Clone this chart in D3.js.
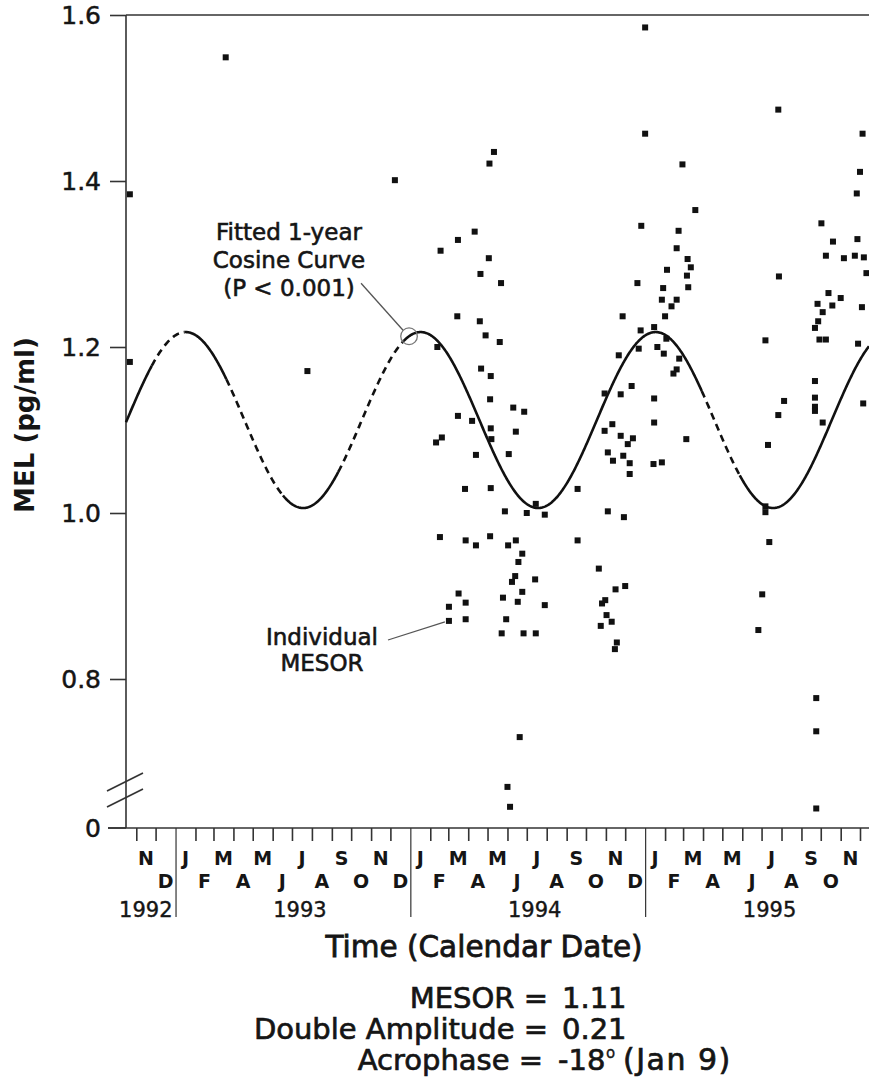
<!DOCTYPE html>
<html><head><meta charset="utf-8">
<script src="https://cdn.jsdelivr.net/npm/d3@7"></script>
<style>
body{margin:0;background:#fff}
text{font-family:"DejaVu Sans",sans-serif;fill:#151515}
</style>
</head><body>
<svg id="chart" width="869" height="1078"></svg>
<script>
// ---------- data ----------
const sampleDates = [
"1992-10-22","1992-10-22","1993-03-20","1993-07-25","1993-12-08",
"1994-05-11","1994-05-04","1994-04-11","1994-03-16","1994-02-17","1994-05-03","1994-04-20","1994-05-22",
"1994-03-15","1994-04-19","1994-04-28","1994-05-20","1994-02-12","1994-04-21","1994-05-06","1994-05-05",
"1994-06-10","1994-06-27","1994-03-16","1994-04-07","1994-05-06","1994-06-14","1994-05-07","1994-02-19",
"1994-02-10","1994-04-13","1994-06-03","1994-03-27","1994-05-06","1994-07-15","1994-05-28","1994-07-01",
"1994-07-29","1994-02-16","1994-03-28","1994-04-13","1994-05-05","1994-06-02","1994-06-14","1994-09-18",
"1994-09-18","1994-06-24","1994-06-18","1994-06-13","1994-06-08","1994-07-14","1994-06-24","1994-05-25",
"1994-06-17","1994-07-29","1994-05-30","1994-05-23","1994-06-26","1994-07-15","1994-03-17","1994-03-02",
"1994-03-28","1994-03-02","1994-03-28","1994-06-20","1994-06-01","1994-06-05",
"1994-10-30","1994-11-24","1994-11-11","1994-10-30","1994-11-24","1994-12-13","1994-12-05","1994-11-04",
"1994-11-28","1994-11-12","1994-12-08","1994-12-08","1994-12-11","1994-11-21","1994-11-27","1994-11-04",
"1994-11-29","1994-10-21","1994-11-16","1994-12-01","1994-10-26","1994-10-31","1994-11-02","1994-11-10",
"1994-10-24","1994-11-18","1994-11-15","1994-12-26","1995-01-01","1995-01-01","1994-12-20","1994-12-22",
"1994-12-25",
"1995-02-28","1995-03-20","1995-02-22","1995-02-19","1995-03-08","1995-03-13","1995-03-07","1995-03-09",
"1995-02-04","1995-01-29","1995-01-27","1995-02-19","1995-02-11","1995-02-01","1995-01-15","1995-02-03",
"1995-01-20","1995-01-30","1995-02-23","1995-02-19","1995-02-14","1995-01-15","1995-01-15","1995-03-06",
"1995-01-14","1995-01-27",
"1995-07-27","1995-07-28","1995-07-07","1995-08-05","1995-07-27","1995-07-11","1995-07-07","1995-07-07",
"1995-07-13","1995-07-02","1995-06-26",
"1995-10-02","1995-10-20","1995-10-09","1995-11-06","1995-11-23","1995-12-07","1995-11-27","1995-12-05",
"1995-12-01","1995-11-26","1995-12-11","1995-10-13","1995-11-01","1995-09-26","1995-10-04","1995-10-19",
"1995-12-04","1995-09-27","1995-09-22","1995-09-29","1995-10-09","1995-11-28","1995-09-22","1995-09-22",
"1995-09-22","1995-09-22","1995-10-04","1995-12-06","1995-09-24","1995-09-24","1995-09-24"
];
const melValues = [
1.384,1.182,1.549,1.171,1.401,
1.435,1.421,1.339,1.329,1.316,1.307,1.288,1.277,
1.237,1.231,1.214,1.206,1.200,1.174,1.165,1.137,
1.127,1.122,1.117,1.111,1.102,1.098,1.089,1.091,
1.085,1.070,1.071,1.029,1.030,1.011,1.002,1.000,
0.998,0.971,0.967,0.961,0.972,0.961,0.967,1.029,
0.967,0.951,0.941,0.924,0.917,0.920,0.905,0.898,
0.893,0.889,0.872,0.855,0.855,0.855,0.903,0.887,
0.892,0.870,0.872,0.730,0.670,0.646,
1.144,1.143,1.107,1.099,1.093,1.090,1.083,1.073,
1.069,1.063,1.060,1.047,1.153,1.190,1.237,1.002,
0.995,0.933,0.908,0.912,0.891,0.895,0.877,0.869,
0.864,0.844,0.836,1.346,1.585,1.457,1.277,1.198,
1.220,
1.420,1.365,1.340,1.319,1.306,1.296,1.286,1.272,
1.293,1.271,1.257,1.257,1.249,1.237,1.224,1.210,
1.200,1.192,1.186,1.173,1.168,1.138,1.109,1.089,
1.059,1.061,
1.486,1.285,1.208,1.135,1.118,1.082,1.008,1.001,
0.965,0.902,0.859,
1.349,1.327,1.310,1.307,1.310,1.308,1.330,1.457,
1.411,1.385,1.289,1.265,1.259,1.252,1.242,1.250,
1.248,1.231,1.223,1.209,1.209,1.204,1.159,1.139,
1.128,1.123,1.109,1.132,0.777,0.737,0.644
];

// fitted 1-year cosine (parameters as drawn)
const mesor = 1.112;
const amplitude = 0.106;          // double amplitude 0.21
const acrophaseDate = "1994-01-17";
const periodDays = 365.25;
const solidRanges = [["1992-10-16","1992-11-25"],["1993-01-15","1993-03-21"],["1993-06-17","1993-09-11"],["1993-12-22","1995-03-30"],["1995-05-28","1995-12-15"]];
const dashedRanges = [["1992-11-25","1993-01-15"],["1993-03-21","1993-06-17"],["1993-09-11","1993-12-22"],["1995-03-30","1995-05-28"]];

const yTickValues = [0.8, 1.0, 1.2, 1.4, 1.6];
const monthLetters = ["J","F","M","A","M","J","J","A","S","O","N","D"];
const yearLabels = ["1992","1993","1994","1995"];
const timeDomain = ["1992-10-16","1995-12-15"];

// ---------- drawing ----------
const parse = d3.utcParse("%Y-%m-%d");
const svg = d3.select("#chart");
const axisColor = "#333";
const ink = "#151515";

const x = d3.scaleUtc().domain(timeDomain.map(parse)).range([126, 869]);
const y = d3.scaleLinear().domain([0.8, 1.6]).range([679, 15]);
const yBottom = 828;

// y axis
const yAxis = svg.append("g").attr("transform", "translate(126,0)")
  .call(d3.axisLeft(y).tickValues(yTickValues).tickSize(16).tickPadding(9).tickFormat(d3.format(".1f")));
yAxis.select(".domain").remove();
yAxis.selectAll(".tick line").attr("stroke", axisColor).attr("stroke-width", 1.6);
yAxis.selectAll(".tick text").style("font-size", "25px").attr("fill", ink)
  .attr("stroke", ink).attr("stroke-width", 0.5)
  .style("font-family", '"DejaVu Sans",sans-serif');
svg.append("line").attr("x1", 126).attr("x2", 126).attr("y1", y(1.6)).attr("y2", yBottom)
  .attr("stroke", axisColor).attr("stroke-width", 1.6);
// top frame
svg.append("line").attr("x1", 126).attr("x2", 869).attr("y1", y(1.6)).attr("y2", y(1.6))
  .attr("stroke", axisColor).attr("stroke-width", 1.6);
// zero tick + label
svg.append("line").attr("x1", 108).attr("x2", 126).attr("y1", yBottom).attr("y2", yBottom)
  .attr("stroke", axisColor).attr("stroke-width", 1.6);
svg.append("text").attr("x", 101).attr("y", yBottom).attr("dy", "0.35em").attr("text-anchor", "end")
  .style("font-size", "25px").attr("stroke", ink).attr("stroke-width", 0.5).text("0");
// axis break
[[791, 773], [807, 789]].forEach(([a, b]) => {
  svg.append("line").attr("x1", 107).attr("y1", a).attr("x2", 143).attr("y2", b)
    .attr("stroke", axisColor).attr("stroke-width", 1.6);
});

// x axis
const months = d3.utcMonth.range(parse("1992-11-01"), parse("1995-12-15"));
const xAxis = svg.append("g").attr("transform", `translate(0,${yBottom})`)
  .call(d3.axisBottom(x).tickValues(months).tickSize(13).tickFormat(""));
xAxis.select(".domain").remove();
xAxis.selectAll(".tick line").attr("stroke", axisColor)
  .attr("y2", d => d.getUTCMonth() === 0 ? 89 : 13)
  .attr("stroke-width", d => d.getUTCMonth() === 0 ? 1.2 : 1.6);
svg.append("line").attr("x1", 108).attr("x2", 869).attr("y1", yBottom).attr("y2", yBottom)
  .attr("stroke", axisColor).attr("stroke-width", 1.6);

// month letters
months.forEach(m => {
  const next = d3.utcMonth.offset(m, 1);
  const cx = (x(m) + x(next)) / 2;
  if (cx > 860) return;
  const mi = m.getUTCMonth();
  svg.append("text").attr("x", cx).attr("y", mi % 2 === 0 ? 865 : 888)
    .attr("text-anchor", "middle").style("font-size", "19px").style("font-weight", "bold")
    .text(monthLetters[mi]);
});
// year labels
yearLabels.forEach((yl, i) => {
  const start = parse(yl + "-01-01"), end = parse((+yl + 1) + "-01-01");
  const t = svg.append("text").attr("y", 917).style("font-size", "21px")
    .attr("stroke", ink).attr("stroke-width", 0.4).text(yl);
  if (i === 0) t.attr("x", x(end) - 3).attr("text-anchor", "end");
  else t.attr("x", (x(start) + x(end)) / 2 + 7).attr("text-anchor", "middle");
});

// fitted cosine curve
const acro = parse(acrophaseDate);
const cosVal = d => mesor + amplitude * Math.cos(2 * Math.PI * ((d - acro) / 864e5) / periodDays);
const line = d3.line().x(d => x(d)).y(d => y(cosVal(d)));
const seg = r => d3.utcDay.range(parse(r[0]), d3.utcDay.offset(parse(r[1]), 1));
solidRanges.forEach(r => {
  svg.append("path").attr("d", line(seg(r))).attr("fill", "none").attr("stroke", "#111").attr("stroke-width", 2.6);
});
dashedRanges.forEach(r => {
  svg.append("path").attr("d", line(seg(r))).attr("fill", "none").attr("stroke", "#111")
    .attr("stroke-width", 2.6).attr("stroke-dasharray", "7,5");
});

// data points
const pts = sampleDates.map((d, i) => ({ date: parse(d), v: melValues[i] }));
svg.append("g").selectAll("rect").data(pts).join("rect")
  .attr("x", d => x(d.date) - 3).attr("y", d => y(d.v) - 3)
  .attr("width", 6).attr("height", 6).attr("fill", "#111");

// annotation: fitted curve
const cDate = parse("1993-12-30");
const cx0 = x(cDate), cy0 = y(cosVal(cDate));
svg.append("circle").attr("cx", cx0).attr("cy", cy0).attr("r", 8.3)
  .attr("fill", "none").attr("stroke", "#777").attr("stroke-width", 1.3);
svg.append("line").attr("x1", cx0 - 6).attr("y1", cy0 - 6).attr("x2", cx0 - 48).attr("y2", cy0 - 53)
  .attr("stroke", "#555").attr("stroke-width", 1.3);
const ann = svg.append("text").attr("text-anchor", "middle").style("font-size", "23px")
  .attr("stroke", ink).attr("stroke-width", 0.6);
[["Fitted 1-year", 240], ["Cosine Curve", 268], ["(P < 0.001)", 296]].forEach(([t, yy]) => {
  ann.append("tspan").attr("x", 289).attr("y", yy).text(t);
});

// annotation: individual MESOR
const mp = pts.find(p => p.v === 0.870);
svg.append("line").attr("x1", 388).attr("y1", 640).attr("x2", x(mp.date) - 4).attr("y2", y(mp.v) + 1)
  .attr("stroke", "#555").attr("stroke-width", 1.3);
const ann2 = svg.append("text").attr("text-anchor", "middle").style("font-size", "23px")
  .attr("stroke", ink).attr("stroke-width", 0.6);
[["Individual", 645], ["MESOR", 671]].forEach(([t, yy]) => {
  ann2.append("tspan").attr("x", 322).attr("y", yy).text(t);
});

// axis titles
svg.append("text").attr("transform", "translate(34,425) rotate(-90)").attr("text-anchor", "middle")
  .style("font-size", "26px").style("font-weight", "bold").text("MEL (pg/ml)");
svg.append("text").attr("x", 484).attr("y", 957).attr("text-anchor", "middle")
  .style("font-size", "29.5px").attr("stroke", ink).attr("stroke-width", 0.8)
  .text("Time (Calendar Date)");

// statistics
const statLabels = ["MESOR =", "Double Amplitude =", "Acrophase ="];
const statValues = ["1.11", "0.21", "-18"];
const statRows = [1008, 1039, 1070];
statLabels.forEach((a, i) => {
  const xa = i === 2 ? 543 : 548, xb = i === 2 ? 558 : 562;
  svg.append("text").attr("x", xa).attr("y", statRows[i]).attr("text-anchor", "end").style("font-size", "29px")
    .attr("stroke", ink).attr("stroke-width", 0.7).text(a);
  svg.append("text").attr("x", xb).attr("y", statRows[i]).style("font-size", "29px")
    .attr("stroke", ink).attr("stroke-width", 0.7).text(statValues[i]);
});
// degree sign and date of acrophase
svg.append("text").attr("x", 606).attr("y", 1058).style("font-size", "15px").text("o")
  .attr("stroke", ink).attr("stroke-width", 0.3);
svg.append("text").attr("x", 623).attr("y", 1070).style("font-size", "30px").style("letter-spacing", "1.5px")
  .attr("stroke", ink).attr("stroke-width", 0.7).text("(Jan 9)");
</script>
</body></html>
